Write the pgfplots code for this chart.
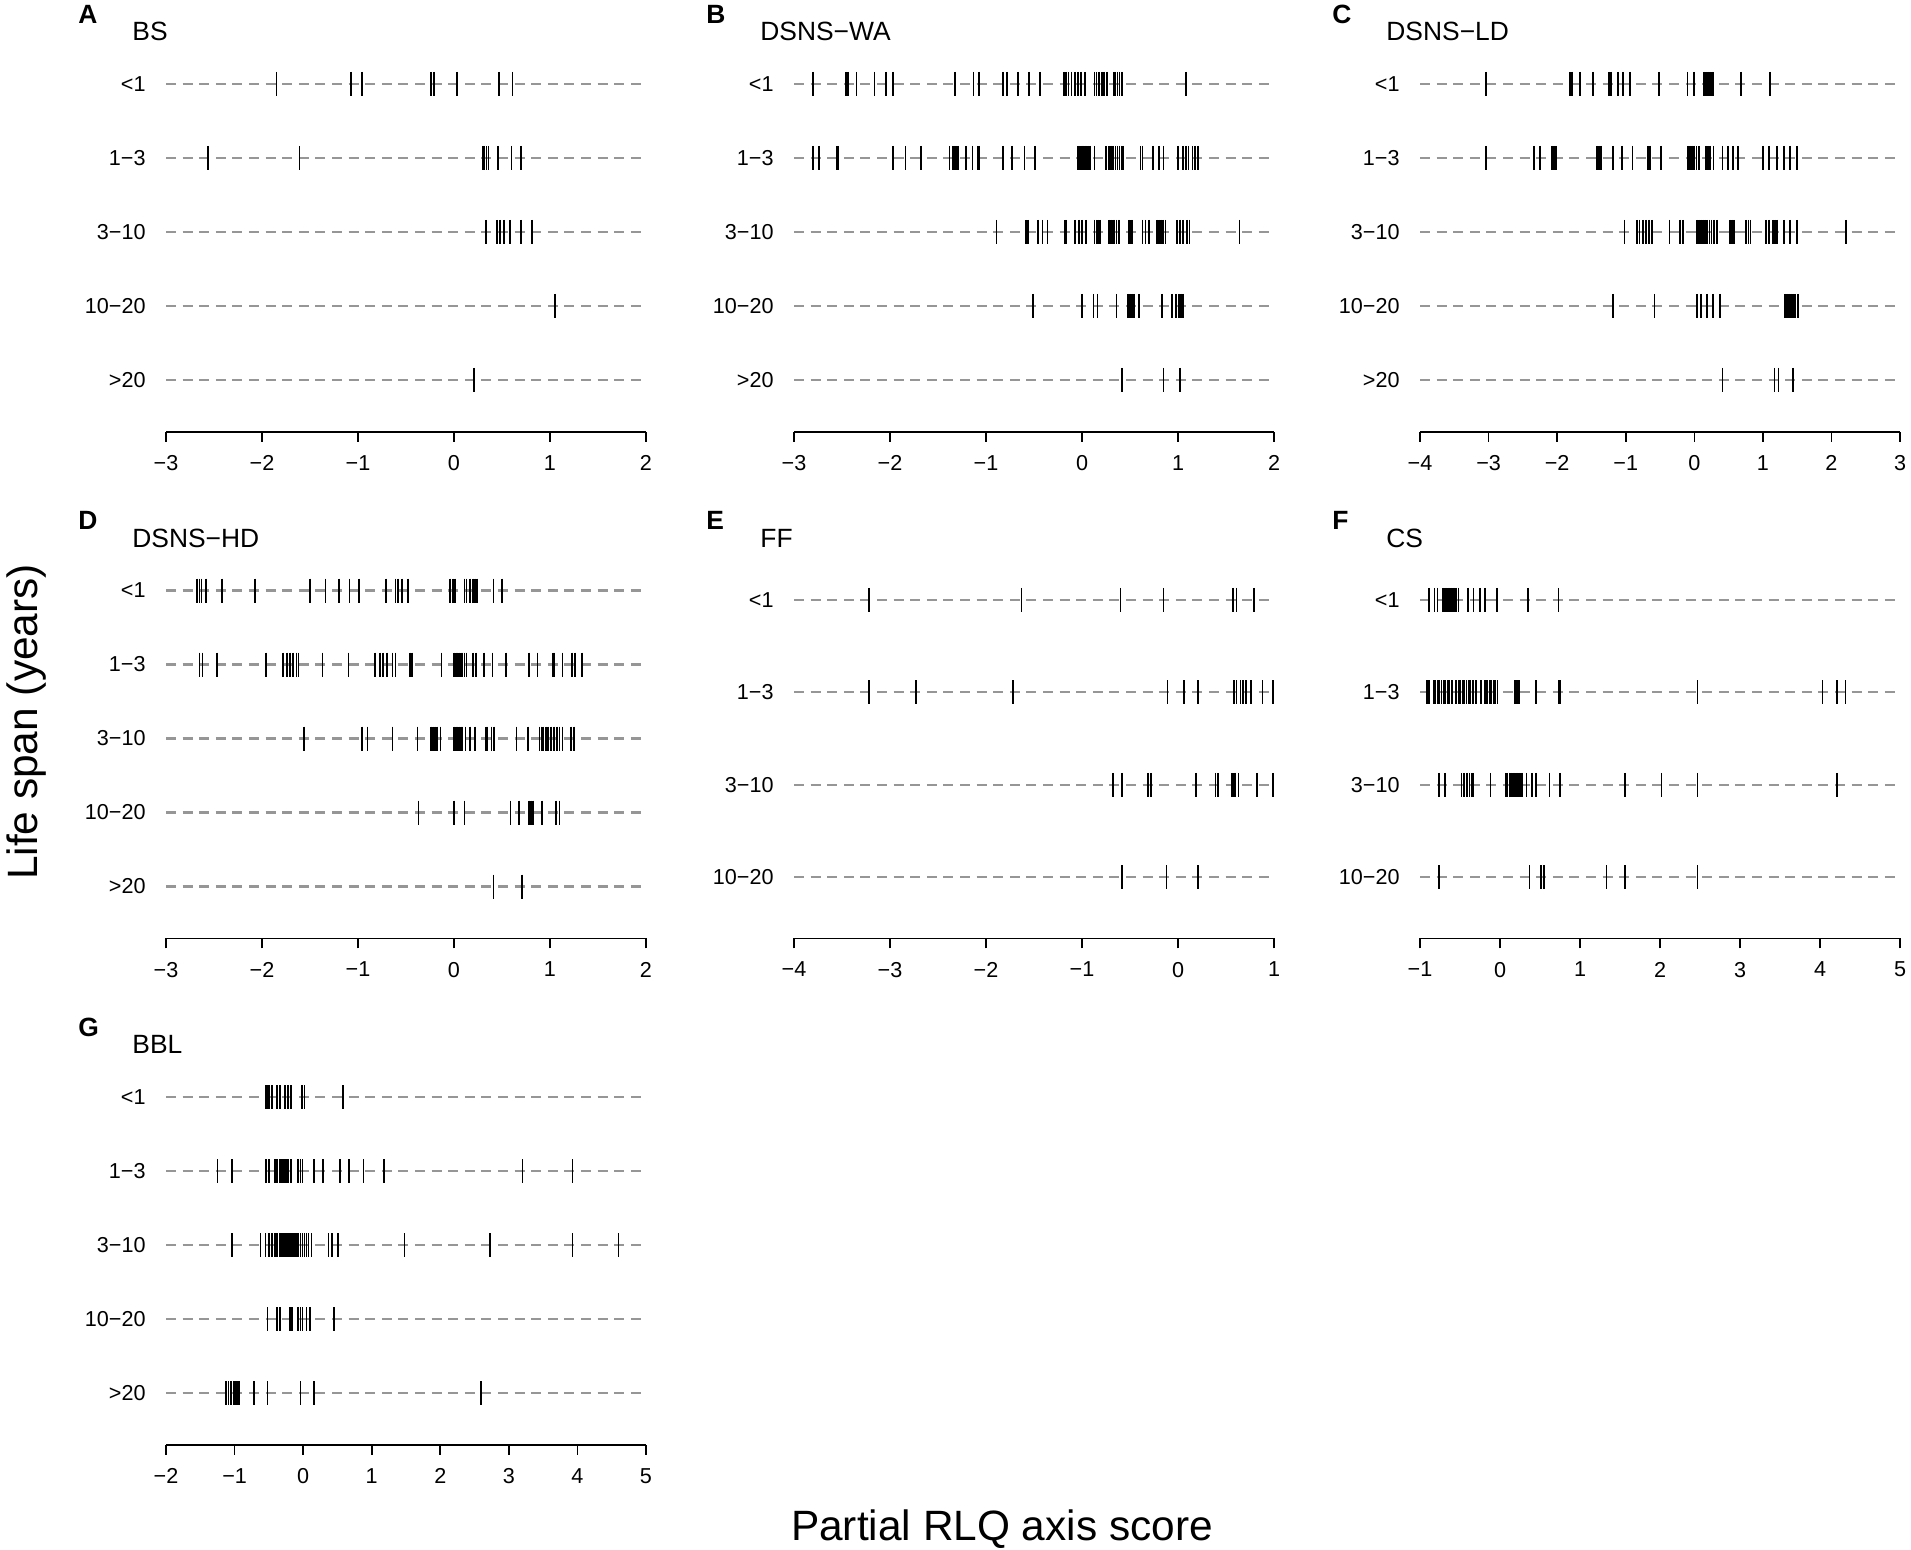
\documentclass[border=0pt]{standalone}
\usepackage{fontspec}
\setmainfont{Liberation Sans}
\usepackage{pgfplots}
\pgfplotsset{compat=1.18}
\definecolor{dashgray}{RGB}{150,150,150}
\newcommand\ticksize{\fontsize{10.8pt}{13pt}\selectfont}
\newcommand\titlesize{\fontsize{13.2pt}{16pt}\selectfont}
\newcommand\bigsize{\fontsize{21.2pt}{25pt}\selectfont}
\pgfplotsset{
 strip/.style={
  scale only axis, width=240pt, height=199.8pt,
  clip=false,
  axis x line*=bottom, axis y line*=left,
  y axis line style={draw=none},
  ytick style={draw=none},
  x axis line style={line width=0.8pt},
  xtick style={line width=0.8pt, black},
  tick align=outside, major tick length=5pt,
  xticklabel style={font=\ticksize, anchor=north, inner sep=0pt, yshift=-6.7pt},
  yticklabel style={font=\ticksize, anchor=east, inner sep=0pt, xshift=-5pt},
  ymin=0.3, ymax=5.7, ytick={1,2,3,4,5}, yticklabels={>20,10−20,3−10,1−3,<1},
  anchor=south west,
 },
 strip4/.style={strip, ymin=0.34, ymax=4.66, ytick={1,2,3,4}, yticklabels={10−20,3−10,1−3,<1}},
 guide/.style={draw=dashgray, line width=1.1pt, dash pattern=on 5pt off 3.3pt, forget plot},
 rug/.style={only marks, mark=|, mark size=6pt, black, mark options={line width=0.85pt}},
}
\newcommand\paneltitle[2]{%
 \node[anchor=base west, inner sep=0pt, font=\titlesize] at ([xshift=-17pt,yshift=-4.25pt]rel axis cs:0,1) {#2};
 \node[anchor=base west, inner sep=0pt, font=\titlesize\bfseries] at ([xshift=-44pt,yshift=4.5pt]rel axis cs:0,1) {#1};
}
\begin{document}
\begin{tikzpicture}
\useasboundingbox (0,0) rectangle (955.5pt,-774.5pt);

% ---------------- A: BS
\begin{axis}[strip, at={(83pt,-215.85pt)}, xmin=-3, xmax=2, xtick={-3,-2,-1,0,1,2}, xticklabels={−3,−2,−1,0,1,2}]
\addplot[guide] coordinates {(-3,1) (2,1)};
\addplot[guide] coordinates {(-3,2) (2,2)};
\addplot[guide] coordinates {(-3,3) (2,3)};
\addplot[guide] coordinates {(-3,4) (2,4)};
\addplot[guide] coordinates {(-3,5) (2,5)};
\addplot[rug] coordinates {(-1.85,5) (-1.07,5) (-0.96,5) (-0.24,5) (-0.21,5) (0.03,5) (0.47,5) (0.61,5)};
\addplot[rug] coordinates {(-2.56,4) (-1.61,4) (0.30,4) (0.31,4) (0.34,4) (0.36,4) (0.46,4) (0.60,4) (0.70,4)};
\addplot[rug] coordinates {(0.33,3) (0.45,3) (0.48,3) (0.52,3) (0.58,3) (0.70,3) (0.81,3)};
\addplot[rug] coordinates {(1.05,2)};
\addplot[rug] coordinates {(0.21,1)};
\paneltitle{A}{BS}
\end{axis}

% ---------------- B: DSNS-WA
\begin{axis}[strip, at={(397pt,-215.85pt)}, xmin=-3, xmax=2, xtick={-3,-2,-1,0,1,2}, xticklabels={−3,−2,−1,0,1,2}]
\addplot[guide] coordinates {(-3,1) (2,1)};
\addplot[guide] coordinates {(-3,2) (2,2)};
\addplot[guide] coordinates {(-3,3) (2,3)};
\addplot[guide] coordinates {(-3,4) (2,4)};
\addplot[guide] coordinates {(-3,5) (2,5)};
\addplot[rug] coordinates {(-2.80,5) (-2.46,5) (-2.44,5) (-2.35,5) (-2.16,5) (-2.04,5) (-1.97,5) (-1.32,5) (-1.13,5) (-1.07,5) (-0.82,5) (-0.78,5) (-0.67,5) (-0.55,5) (-0.44,5) (-0.19,5) (-0.17,5) (-0.14,5) (-0.11,5) (-0.07,5) (-0.04,5) (-0.01,5) (0.03,5) (0.13,5) (0.15,5) (0.18,5) (0.21,5) (0.23,5) (0.26,5) (0.33,5) (0.35,5) (0.37,5) (0.39,5) (0.41,5) (0.42,5) (1.08,5)};
\addplot[rug] coordinates {(-2.80,4) (-2.74,4) (-2.55,4) (-2.54,4) (-1.97,4) (-1.84,4) (-1.68,4) (-1.38,4) (-1.35,4) (-1.33,4) (-1.31,4) (-1.29,4) (-1.21,4) (-1.14,4) (-1.09,4) (-1.07,4) (-0.82,4) (-0.73,4) (-0.60,4) (-0.49,4) (-0.04,4) (-0.03,4) (-0.01,4) (0.00,4) (0.01,4) (0.03,4) (0.04,4) (0.06,4) (0.08,4) (0.13,4) (0.25,4) (0.28,4) (0.30,4) (0.32,4) (0.35,4) (0.37,4) (0.39,4) (0.41,4) (0.43,4) (0.61,4) (0.63,4) (0.74,4) (0.80,4) (0.85,4) (1.00,4) (1.05,4) (1.08,4) (1.11,4) (1.15,4) (1.18,4) (1.21,4)};
\addplot[rug] coordinates {(-0.89,3) (-0.58,3) (-0.56,3) (-0.46,3) (-0.41,3) (-0.36,3) (-0.18,3) (-0.16,3) (-0.07,3) (-0.03,3) (0.00,3) (0.04,3) (0.13,3) (0.15,3) (0.17,3) (0.19,3) (0.28,3) (0.30,3) (0.32,3) (0.34,3) (0.36,3) (0.38,3) (0.39,3) (0.49,3) (0.51,3) (0.52,3) (0.63,3) (0.66,3) (0.70,3) (0.78,3) (0.80,3) (0.82,3) (0.84,3) (0.87,3) (0.99,3) (1.02,3) (1.05,3) (1.09,3) (1.12,3) (1.64,3)};
\addplot[rug] coordinates {(-0.51,2) (0.00,2) (0.12,2) (0.16,2) (0.36,2) (0.48,2) (0.50,2) (0.52,2) (0.54,2) (0.59,2) (0.83,2) (0.94,2) (0.98,2) (1.01,2) (1.03,2) (1.05,2)};
\addplot[rug] coordinates {(0.41,1) (0.42,1) (0.85,1) (1.02,1)};
\paneltitle{B}{DSNS−WA}
\end{axis}

% ---------------- C: DSNS-LD
\begin{axis}[strip, at={(710pt,-215.85pt)}, xmin=-4, xmax=3, xtick={-4,-3,-2,-1,0,1,2,3}, xticklabels={−4,−3,−2,−1,0,1,2,3}]
\addplot[guide] coordinates {(-4,1) (3,1)};
\addplot[guide] coordinates {(-4,2) (3,2)};
\addplot[guide] coordinates {(-4,3) (3,3)};
\addplot[guide] coordinates {(-4,4) (3,4)};
\addplot[guide] coordinates {(-4,5) (3,5)};
\addplot[rug] coordinates {(-3.04,5) (-1.81,5) (-1.78,5) (-1.67,5) (-1.48,5) (-1.24,5) (-1.21,5) (-1.11,5) (-1.04,5) (-0.94,5) (-0.51,5) (-0.10,5) (0.00,5) (0.14,5) (0.17,5) (0.20,5) (0.23,5) (0.26,5) (0.28,5) (0.68,5) (1.10,5)};
\addplot[rug] coordinates {(-3.04,4) (-2.34,4) (-2.25,4) (-2.08,4) (-2.05,4) (-2.02,4) (-1.42,4) (-1.39,4) (-1.36,4) (-1.19,4) (-1.05,4) (-0.90,4) (-0.68,4) (-0.65,4) (-0.49,4) (-0.09,4) (-0.06,4) (-0.03,4) (0.00,4) (0.03,4) (0.07,4) (0.17,4) (0.20,4) (0.23,4) (0.28,4) (0.41,4) (0.49,4) (0.56,4) (0.64,4) (1.00,4) (1.09,4) (1.21,4) (1.31,4) (1.40,4) (1.50,4)};
\addplot[rug] coordinates {(-1.02,3) (-0.84,3) (-0.80,3) (-0.75,3) (-0.70,3) (-0.66,3) (-0.62,3) (-0.36,3) (-0.21,3) (-0.16,3) (0.04,3) (0.07,3) (0.10,3) (0.13,3) (0.16,3) (0.19,3) (0.22,3) (0.25,3) (0.29,3) (0.33,3) (0.52,3) (0.55,3) (0.58,3) (0.75,3) (0.79,3) (0.82,3) (1.05,3) (1.09,3) (1.15,3) (1.18,3) (1.21,3) (1.31,3) (1.40,3) (1.50,3) (2.21,3)};
\addplot[rug] coordinates {(-1.19,2) (-0.58,2) (0.04,2) (0.10,2) (0.19,2) (0.27,2) (0.37,2) (1.32,2) (1.35,2) (1.38,2) (1.41,2) (1.44,2) (1.47,2) (1.51,2)};
\addplot[rug] coordinates {(0.41,1) (1.17,1) (1.23,1) (1.44,1)};
\paneltitle{C}{DSNS−LD}
\end{axis}

% ---------------- D: DSNS-HD
\begin{axis}[strip, at={(83pt,-469.15pt)}, xmin=-3, xmax=2, xtick={-3,-2,-1,0,1,2}, xticklabels={−3,−2,−1,0,1,2}]
\addplot[guide] coordinates {(-3,1) (2,1)};
\addplot[guide] coordinates {(-3,2) (2,2)};
\addplot[guide] coordinates {(-3,3) (2,3)};
\addplot[guide] coordinates {(-3,4) (2,4)};
\addplot[guide] coordinates {(-3,5) (2,5)};
\addplot[rug] coordinates {(-2.68,5) (-2.65,5) (-2.63,5) (-2.58,5) (-2.42,5) (-2.07,5) (-1.50,5) (-1.34,5) (-1.20,5) (-1.09,5) (-0.99,5) (-0.71,5) (-0.61,5) (-0.58,5) (-0.54,5) (-0.48,5) (-0.04,5) (-0.01,5) (0.01,5) (0.11,5) (0.13,5) (0.17,5) (0.20,5) (0.22,5) (0.24,5) (0.41,5) (0.50,5)};
\addplot[rug] coordinates {(-2.65,4) (-2.62,4) (-2.47,4) (-1.96,4) (-1.78,4) (-1.74,4) (-1.71,4) (-1.68,4) (-1.64,4) (-1.62,4) (-1.37,4) (-1.10,4) (-0.82,4) (-0.77,4) (-0.74,4) (-0.70,4) (-0.64,4) (-0.61,4) (-0.46,4) (-0.44,4) (-0.13,4) (0.00,4) (0.02,4) (0.03,4) (0.05,4) (0.07,4) (0.09,4) (0.11,4) (0.13,4) (0.20,4) (0.23,4) (0.31,4) (0.40,4) (0.54,4) (0.78,4) (0.87,4) (1.03,4) (1.04,4) (1.13,4) (1.23,4) (1.26,4) (1.33,4)};
\addplot[rug] coordinates {(-1.56,3) (-0.96,3) (-0.90,3) (-0.64,3) (-0.38,3) (-0.24,3) (-0.22,3) (-0.20,3) (-0.18,3) (-0.14,3) (0.00,3) (0.02,3) (0.03,3) (0.05,3) (0.07,3) (0.09,3) (0.12,3) (0.17,3) (0.22,3) (0.33,3) (0.35,3) (0.39,3) (0.42,3) (0.65,3) (0.77,3) (0.89,3) (0.91,3) (0.93,3) (0.96,3) (0.98,3) (1.01,3) (1.04,3) (1.07,3) (1.10,3) (1.13,3) (1.22,3) (1.25,3)};
\addplot[rug] coordinates {(-0.37,2) (0.00,2) (0.11,2) (0.59,2) (0.68,2) (0.78,2) (0.80,2) (0.82,2) (0.92,2) (1.06,2) (1.10,2)};
\addplot[rug] coordinates {(0.41,1) (0.71,1)};
\paneltitle{D}{DSNS−HD}
\end{axis}

% ---------------- E: FF
\begin{axis}[strip4, at={(397pt,-469.15pt)}, xmin=-4, xmax=1, xtick={-4,-3,-2,-1,0,1}, xticklabels={−4,−3,−2,−1,0,1}]
\addplot[guide] coordinates {(-4,1) (1,1)};
\addplot[guide] coordinates {(-4,2) (1,2)};
\addplot[guide] coordinates {(-4,3) (1,3)};
\addplot[guide] coordinates {(-4,4) (1,4)};
\addplot[rug] coordinates {(-3.22,4) (-1.63,4) (-0.60,4) (-0.15,4) (0.57,4) (0.61,4) (0.79,4)};
\addplot[rug] coordinates {(-3.22,3) (-2.73,3) (-1.72,3) (-0.11,3) (0.06,3) (0.21,3) (0.58,3) (0.61,3) (0.65,3) (0.68,3) (0.71,3) (0.76,3) (0.88,3) (0.99,3)};
\addplot[rug] coordinates {(-0.68,2) (-0.58,2) (-0.31,2) (-0.28,2) (0.19,2) (0.39,2) (0.42,2) (0.56,2) (0.58,2) (0.60,2) (0.63,2) (0.82,2) (0.99,2)};
\addplot[rug] coordinates {(-0.58,1) (-0.12,1) (0.21,1)};
\paneltitle{E}{FF}
\end{axis}

% ---------------- F: CS
\begin{axis}[strip4, at={(710pt,-469.15pt)}, xmin=-1, xmax=5, xtick={-1,0,1,2,3,4,5}, xticklabels={−1,0,1,2,3,4,5}]
\addplot[guide] coordinates {(-1,1) (5,1)};
\addplot[guide] coordinates {(-1,2) (5,2)};
\addplot[guide] coordinates {(-1,3) (5,3)};
\addplot[guide] coordinates {(-1,4) (5,4)};
\addplot[rug] coordinates {(-0.89,4) (-0.82,4) (-0.78,4) (-0.71,4) (-0.69,4) (-0.67,4) (-0.65,4) (-0.63,4) (-0.61,4) (-0.59,4) (-0.57,4) (-0.55,4) (-0.52,4) (-0.40,4) (-0.33,4) (-0.25,4) (-0.19,4) (-0.04,4) (0.35,4) (0.73,4)};
\addplot[rug] coordinates {(-0.91,3) (-0.89,3) (-0.83,3) (-0.81,3) (-0.78,3) (-0.76,3) (-0.73,3) (-0.70,3) (-0.68,3) (-0.65,3) (-0.63,3) (-0.60,3) (-0.55,3) (-0.52,3) (-0.50,3) (-0.47,3) (-0.45,3) (-0.42,3) (-0.39,3) (-0.37,3) (-0.34,3) (-0.30,3) (-0.24,3) (-0.19,3) (-0.16,3) (-0.13,3) (-0.11,3) (-0.08,3) (-0.06,3) (-0.03,3) (0.19,3) (0.21,3) (0.24,3) (0.45,3) (0.73,3) (0.75,3) (2.47,3) (4.03,3) (4.21,3) (4.32,3)};
\addplot[rug] coordinates {(-0.76,2) (-0.69,2) (-0.48,2) (-0.45,2) (-0.41,2) (-0.38,2) (-0.35,2) (-0.33,2) (-0.12,2) (0.07,2) (0.09,2) (0.12,2) (0.14,2) (0.16,2) (0.18,2) (0.20,2) (0.22,2) (0.24,2) (0.26,2) (0.28,2) (0.33,2) (0.40,2) (0.45,2) (0.62,2) (0.75,2) (1.56,2) (2.02,2) (2.47,2) (4.21,2)};
\addplot[rug] coordinates {(-0.76,1) (0.37,1) (0.51,1) (0.55,1) (1.33,1) (1.56,1) (2.47,1)};
\paneltitle{F}{CS}
\end{axis}

% ---------------- G: BBL
\begin{axis}[strip, at={(83pt,-722.4pt)}, xmin=-2, xmax=5, xtick={-2,-1,0,1,2,3,4,5}, xticklabels={−2,−1,0,1,2,3,4,5}]
\addplot[guide] coordinates {(-2,1) (5,1)};
\addplot[guide] coordinates {(-2,2) (5,2)};
\addplot[guide] coordinates {(-2,3) (5,3)};
\addplot[guide] coordinates {(-2,4) (5,4)};
\addplot[guide] coordinates {(-2,5) (5,5)};
\addplot[rug] coordinates {(-0.54,5) (-0.52,5) (-0.50,5) (-0.45,5) (-0.38,5) (-0.34,5) (-0.26,5) (-0.22,5) (-0.18,5) (-0.02,5) (0.02,5) (0.58,5)};
\addplot[rug] coordinates {(-1.25,4) (-1.04,4) (-0.54,4) (-0.50,4) (-0.41,4) (-0.38,4) (-0.34,4) (-0.31,4) (-0.28,4) (-0.25,4) (-0.22,4) (-0.18,4) (-0.07,4) (-0.04,4) (-0.01,4) (0.16,4) (0.29,4) (0.54,4) (0.67,4) (0.88,4) (1.18,4) (3.20,4) (3.93,4)};
\addplot[rug] coordinates {(-1.04,3) (-0.62,3) (-0.55,3) (-0.50,3) (-0.45,3) (-0.41,3) (-0.38,3) (-0.34,3) (-0.31,3) (-0.28,3) (-0.25,3) (-0.22,3) (-0.19,3) (-0.16,3) (-0.13,3) (-0.10,3) (-0.07,3) (-0.04,3) (-0.01,3) (0.02,3) (0.05,3) (0.08,3) (0.12,3) (0.37,3) (0.42,3) (0.51,3) (1.48,3) (2.73,3) (3.93,3) (4.60,3)};
\addplot[rug] coordinates {(-0.52,2) (-0.38,2) (-0.34,2) (-0.33,2) (-0.19,2) (-0.16,2) (-0.07,2) (-0.04,2) (-0.01,2) (0.05,2) (0.10,2) (0.45,2)};
\addplot[rug] coordinates {(-1.13,1) (-1.09,1) (-1.05,1) (-1.01,1) (-0.99,1) (-0.97,1) (-0.95,1) (-0.93,1) (-0.72,1) (-0.52,1) (-0.04,1) (0.16,1) (2.59,1)};
\paneltitle{G}{BBL}
\end{axis}

\node[rotate=90, anchor=center, inner sep=0pt, font=\bigsize] at (13.5pt,-361pt) {Life span (years)};
\node[anchor=base, inner sep=0pt, font=\bigsize] at (501pt,-770pt) {Partial RLQ axis score};
\end{tikzpicture}
\end{document}
